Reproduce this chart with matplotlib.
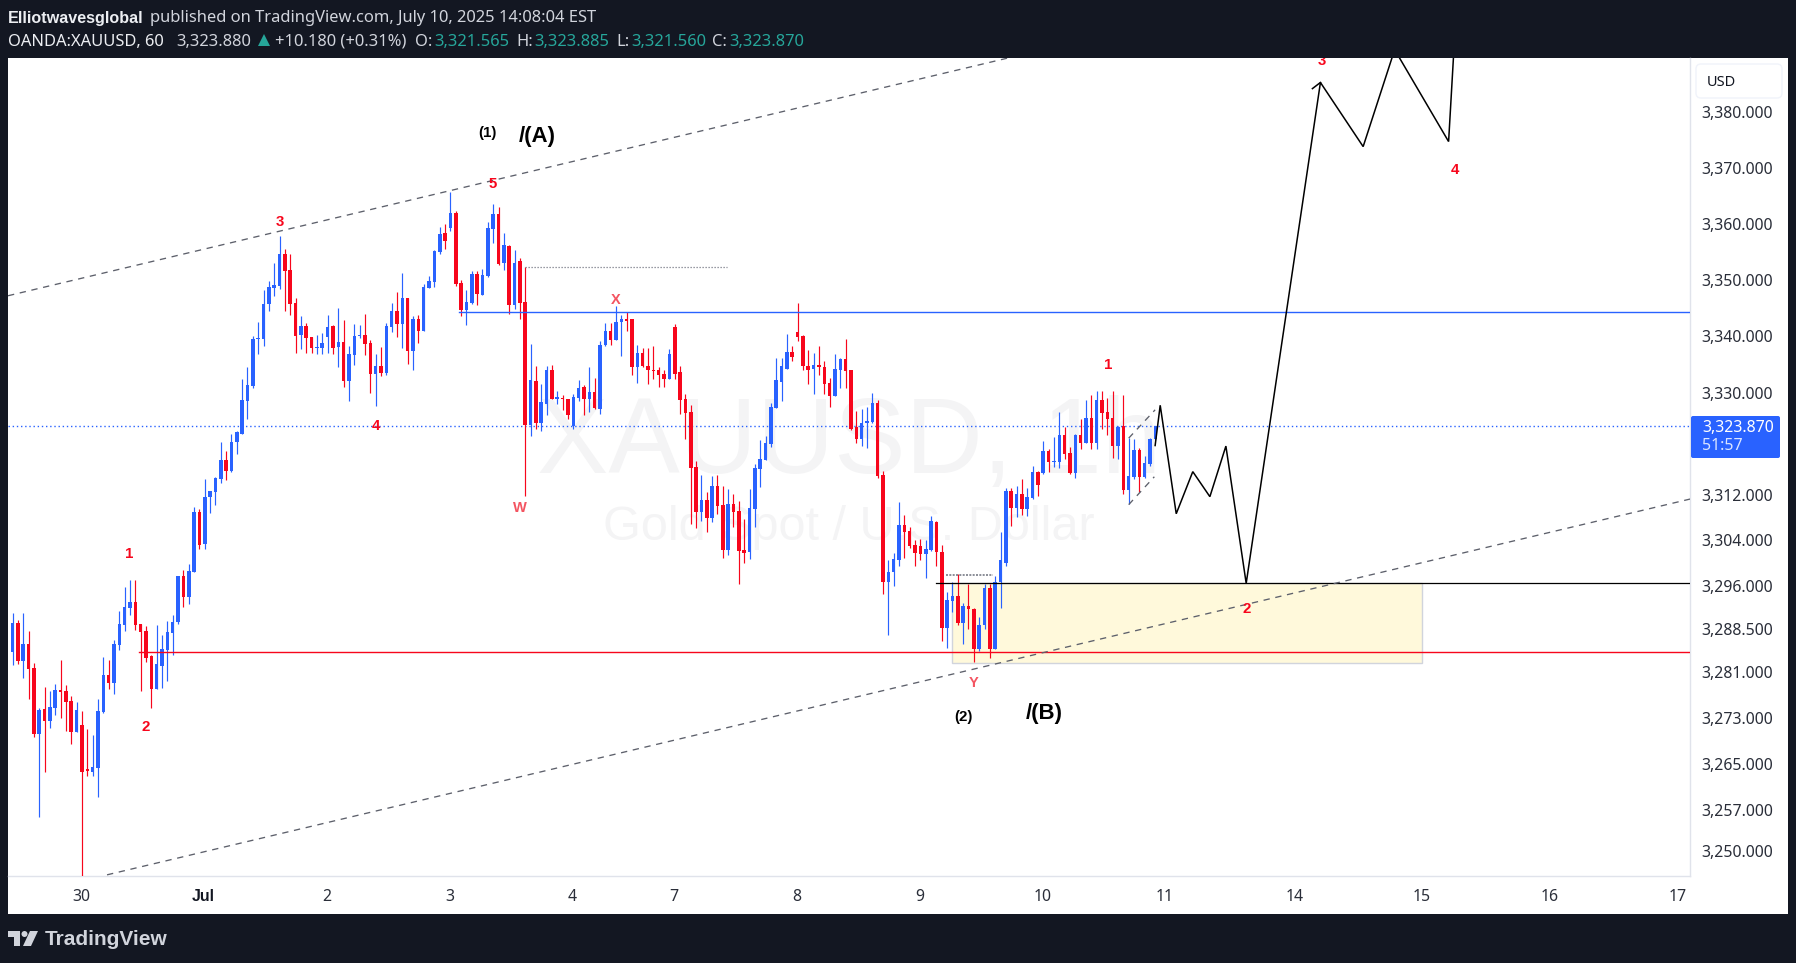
import matplotlib
matplotlib.use("Agg")
import matplotlib.pyplot as plt
from matplotlib.patches import Rectangle, FancyBboxPatch, Polygon, Circle
from matplotlib.ticker import NullLocator
from matplotlib.transforms import ScaledTranslation

opens = [3284.4,3289.4,3282.8,3285.7,3281.5,3270.0,3274.4,3272.3,3274.5,3277.7,
3277.5,3275.8,3270.4,3271.6,3263.9,3263.5,3264.2,3273.8,3280.3,3278.9,
3285.6,3289.1,3292.0,3293.1,3289.2,3288.0,3283.6,3277.9,3281.9,3284.7,
3287.7,3289.6,3297.5,3294.0,3298.3,3308.8,3303.2,3311.5,3312.3,3314.6,
3317.9,3316.0,3321.1,3322.6,3328.4,3331.0,3339.3,3339.3,3345.5,3348.4,
3348.7,3354.4,3351.5,3345.7,3340.0,3341.6,3339.7,3337.7,3337.7,3339.7,
3341.6,3337.9,3338.8,3331.9,3336.5,3339.9,3340.0,3338.6,3333.2,3334.6,
3333.3,3341.5,3344.3,3342.0,3346.6,3337.2,3342.9,3340.8,3348.4,3349.4,
3354.7,3358.1,3359.1,3361.8,3349.2,3344.5,3345.7,3350.8,3347.1,3350.5,
3358.9,3361.6,3352.8,3355.8,3345.3,3353.1,3345.9,3324.2,3331.9,3324.4,
3327.9,3333.9,3328.7,3328.9,3328.7,3324.0,3328.9,3330.9,3328.7,3330.0,
3327.0,3338.2,3340.8,3339.2,3342.4,3342.8,3342.8,3334.3,3336.8,3334.6,
3333.9,3333.8,3333.2,3332.2,3341.5,3333.4,3328.7,3326.5,3316.7,3308.8,
3310.9,3307.7,3313.3,3310.0,3302.2,3310.2,3309.0,3302.2,3301.8,3309.3,
3316.3,3317.9,3320.7,3327.2,3331.8,3334.1,3337.1,3340.5,3339.8,3334.6,
3334.1,3334.8,3334.3,3331.5,3329.3,3333.9,3335.7,3333.8,3323.7,3321.7,
3324.4,3324.7,3328.0,3315.3,3296.6,3298.2,3300.4,3306.6,3305.5,3303.1,
3302.9,3301.5,3302.2,3307.1,3301.8,3288.5,3293.3,3294.1,3289.4,3292.4,
3291.9,3284.9,3289.1,3295.5,3284.9,3296.6,3299.9,3312.5,3309.5,3312.0,
3309.3,3311.3,3315.8,3315.6,3319.5,3317.6,3317.6,3322.3,3319.2,3315.6,
3322.3,3320.9,3325.3,3320.9,3328.6,3326.5,3325.3,3320.4,3323.9,3312.7,
3315.0,3319.7,3315.0,3317.2,3321.565]

closes = [3289.4,3282.8,3285.7,3281.4,3270.0,3274.2,3272.3,3274.7,3277.7,3277.3,
3275.6,3270.4,3274.2,3263.5,3263.7,3264.4,3274.0,3280.3,3278.9,3285.7,
3289.2,3292.2,3293.1,3289.1,3287.8,3283.3,3277.9,3282.2,3284.9,3287.8,
3289.6,3297.5,3294.0,3298.5,3308.8,3303.1,3311.5,3312.5,3314.8,3317.9,
3316.0,3321.2,3322.8,3328.6,3331.2,3339.3,3339.5,3345.5,3348.5,3348.9,
3354.4,3351.4,3345.5,3339.9,3341.6,3339.5,3337.7,3337.9,3338.6,3341.5,
3337.7,3338.8,3331.9,3336.7,3339.9,3340.0,3338.5,3333.2,3334.6,3333.3,
3341.6,3344.3,3342.0,3346.6,3337.2,3342.9,3340.8,3348.5,3349.6,3354.9,
3357.9,3356.7,3361.8,3349.1,3344.5,3345.9,3350.8,3347.3,3350.6,3359.1,
3361.6,3352.6,3356.0,3345.3,3352.9,3345.7,3324.2,3332.1,3324.4,3328.1,
3333.9,3328.7,3329.0,3328.7,3325.8,3329.1,3330.7,3328.7,3330.0,3327.2,
3338.3,3340.8,3339.2,3342.4,3342.9,3342.6,3334.3,3336.8,3334.5,3333.8,
3333.6,3332.9,3332.2,3336.6,3333.2,3328.6,3326.3,3316.5,3308.8,3310.9,
3307.7,3313.3,3309.8,3302.2,3310.2,3308.8,3302.0,3301.6,3309.5,3316.5,
3318.1,3320.9,3327.3,3332.0,3334.5,3337.1,3336.2,3339.6,3334.5,3333.9,
3334.8,3334.3,3331.3,3329.3,3334.1,3335.7,3333.6,3323.5,3321.7,3324.5,
3324.9,3328.0,3315.1,3296.6,3298.2,3300.6,3306.6,3305.3,3302.9,3301.7,
3301.5,3302.4,3307.3,3301.8,3288.5,3293.4,3294.1,3289.4,3292.4,3291.9,
3284.9,3289.1,3295.5,3284.9,3296.6,3300.4,3312.5,3309.5,3312.0,3309.3,
3311.4,3315.8,3313.5,3319.5,3317.6,3317.8,3322.3,3319.0,3315.6,3322.3,
3320.9,3325.3,3320.9,3328.6,3326.2,3325.1,3320.4,3323.8,3312.7,3315.1,
3319.7,3315.0,3317.4,3321.6,3323.87]

highs = [3291.2,3289.9,3291.2,3288.0,3282.4,3274.5,3278.2,3277.5,3278.7,3282.9,
3278.6,3276.6,3275.6,3274.0,3270.9,3269.8,3276.1,3283.5,3282.9,3286.4,
3291.5,3295.7,3296.9,3296.8,3289.2,3288.9,3283.8,3289.1,3287.3,3289.8,
3290.8,3297.6,3298.7,3299.7,3309.7,3309.4,3314.6,3312.5,3315.0,3321.1,
3319.5,3322.6,3323.0,3332.3,3334.4,3339.9,3342.3,3348.0,3349.6,3352.8,
3357.7,3355.4,3354.4,3346.6,3343.4,3342.2,3339.7,3340.0,3340.4,3343.6,
3341.8,3344.8,3342.7,3338.1,3342.0,3341.8,3343.8,3339.2,3336.7,3337.9,
3342.2,3345.7,3347.6,3351.0,3346.6,3343.4,3343.6,3349.1,3350.5,3355.1,
3359.3,3359.8,3365.5,3362.0,3349.8,3348.0,3351.4,3351.4,3351.7,3360.2,
3363.4,3362.8,3358.1,3356.1,3355.2,3353.7,3352.1,3338.5,3334.6,3331.4,
3334.6,3334.7,3330.1,3329.4,3328.7,3329.6,3332.0,3331.1,3334.3,3332.5,
3338.9,3342.2,3342.2,3345.1,3343.6,3344.2,3342.9,3338.2,3337.8,3337.8,
3338.0,3334.3,3333.8,3337.5,3341.9,3334.5,3329.6,3327.7,3317.7,3315.3,
3312.3,3315.1,3315.3,3313.3,3312.8,3311.9,3310.7,3307.6,3312.8,3317.2,
3321.4,3322.1,3328.0,3335.9,3335.9,3340.3,3338.0,3345.8,3340.1,3337.3,
3336.9,3338.0,3335.5,3332.5,3336.6,3336.0,3339.4,3333.8,3326.6,3327.0,
3327.3,3329.8,3328.6,3316.0,3300.4,3301.7,3310.6,3308.3,3306.2,3303.9,
3304.1,3303.9,3308.1,3307.3,3303.1,3294.8,3296.6,3298.0,3292.9,3296.1,
3292.0,3290.5,3296.1,3296.1,3297.6,3305.3,3313.0,3313.0,3313.4,3314.6,
3313.0,3316.9,3316.0,3321.3,3319.9,3322.0,3326.4,3323.7,3320.2,3322.5,
3325.1,3328.5,3329.5,3330.2,3330.2,3328.9,3330.2,3323.9,3329.5,3321.9,
3321.6,3320.0,3318.6,3321.9,3323.885]

lows = [3282.0,3282.2,3279.8,3276.1,3269.5,3255.7,3263.5,3271.1,3273.3,3272.8,
3270.5,3268.4,3270.4,3243.0,3262.8,3262.7,3259.2,3273.7,3277.9,3277.0,
3284.7,3288.0,3290.8,3288.2,3277.5,3282.6,3274.5,3277.9,3278.0,3279.3,
3283.8,3289.2,3292.2,3292.7,3298.2,3302.4,3302.4,3308.7,3310.1,3313.9,
3314.4,3315.8,3319.0,3322.6,3325.1,3330.7,3336.7,3338.1,3344.3,3346.9,
3348.2,3344.3,3343.6,3336.9,3337.6,3336.9,3336.9,3336.7,3336.7,3336.9,
3336.7,3334.4,3330.9,3328.4,3334.7,3339.5,3336.5,3329.8,3327.5,3332.8,
3333.0,3340.6,3339.7,3337.7,3334.9,3333.9,3338.6,3340.8,3348.4,3348.5,
3354.4,3355.4,3358.6,3348.7,3343.4,3341.8,3345.5,3345.3,3347.1,3350.3,
3356.3,3352.4,3351.5,3343.8,3344.6,3342.9,3311.7,3322.1,3323.5,3323.0,
3325.8,3328.7,3327.9,3326.8,3325.1,3323.5,3328.4,3325.8,3326.5,3327.0,
3326.1,3338.0,3338.3,3339.2,3336.4,3340.8,3332.9,3331.5,3334.3,3331.3,
3332.2,3330.9,3330.8,3332.2,3332.3,3326.1,3321.7,3306.7,3306.0,3307.2,
3305.3,3307.0,3308.5,3300.8,3301.3,3306.2,3296.2,3299.9,3300.6,3306.2,
3313.2,3317.9,3320.2,3327.2,3328.4,3334.1,3335.5,3338.9,3333.8,3331.3,
3329.6,3332.9,3329.6,3327.3,3329.3,3330.7,3330.6,3323.3,3321.0,3320.5,
3320.0,3324.5,3314.7,3294.5,3287.2,3295.9,3299.4,3300.8,3302.5,3299.4,
3300.4,3297.3,3302.0,3299.4,3286.3,3285.0,3291.3,3289.1,3285.7,3288.4,
3282.6,3284.5,3288.4,3283.3,3284.9,3292.0,3299.4,3306.3,3307.9,3308.3,
3308.1,3311.1,3311.6,3315.5,3315.8,3316.7,3316.5,3318.1,3315.5,3314.8,
3319.9,3320.9,3319.9,3319.9,3323.5,3322.3,3318.3,3318.1,3312.0,3310.2,
3314.6,3312.3,3314.8,3316.9,3321.56]

price_ticks = [3380, 3370, 3360, 3350, 3340, 3330, 3312, 3304, 3296, 3288.5, 3281, 3273, 3265, 3257, 3250]
date_positions = [12.8, 35.8, 58.8, 81.8, 104.8, 123.8, 146.8, 169.8, 192.8, 215.8, 240, 263.9, 287.8, 311.85]
date_labels = ["30", "Jul", "2", "3", "4", "7", "8", "9", "10", "11", "14", "15", "16", "17"]

last_price = 3323.87
blue_level = 3344.2
red_level = 3284.3
black_level = 3296.4
zone_low = 3282.4
zone_x = [176.0, 264.0]

channel_top_x, channel_top_y = [-0.84, 186.4], [3347.0, 3389.5]
channel_bot_x, channel_bot_y = [17.7, 314.2], [3245.7, 3311.1]
flag_top_x, flag_top_y = [209.0, 213.95], [3321.8, 3326.8]
flag_bot_x, flag_bot_y = [209.0, 213.8], [3310.1, 3315.0]
forecast_x = [213.95, 214.9, 217.9, 221.0, 224.2, 227.2, 231.0, 244.9, 252.9, 258.8, 268.9, 270.0]
forecast_y = [3320.5, 3327.6, 3308.5, 3315.9, 3311.5, 3320.4, 3296.3, 3385.1, 3373.6, 3391.0, 3374.5, 3392.8]
wing_x, wing_y = [243.4, 244.9], [3384.0, 3385.1]
dots_a_x, dots_a_y = [96.0, 133.8], 3352.1
dots_b_x, dots_b_y = [174.8, 183.6], 3297.8

red_labels = [("1", 21.9, 3301.7), ("2", 24.9, 3271.5), ("3", 50.0, 3360.4), ("4", 68.0, 3324.2),
              ("5", 89.9, 3367.2), ("1", 205.1, 3334.95), ("2", 231.1, 3292.0), ("3", 245.1, 3389.2),
              ("4", 270.1, 3369.7)]
pink_labels = [("W", 95.0, 3309.7), ("X", 112.9, 3346.6), ("Y", 179.9, 3279.2)]
small_black = [("(1)", 89.0, 3376.3), ("(2)", 178.0, 3273.3)]
big_black = [("/(A)", 98.3, 3375.6), ("/(B)", 193.2, 3273.9)]

W, H = 1796, 963
BG = "#131722"; BLUE = "#2962ff"; RED = "#f7061c"; PINK = "#f23645"
TEAL = "#26a69a"; GRID = "#e0e3eb"; DASH = "#5d606b"; INK = "#131722"
BOLD = "Liberation Sans"
plt.rcParams["font.family"] = ["Noto Sans", "DejaVu Sans"]

fig = plt.figure(figsize=(W / 100, H / 100), dpi=100, facecolor=BG)
fx = lambda px: px / W
fy = lambda py: 1 - py / H

fig.add_artist(Rectangle((fx(8), fy(914)), 1780 / W, 856 / H, transform=fig.transFigure,
                         facecolor="white", edgecolor="none", zorder=-5))

ax = fig.add_axes([fx(8), fy(876), 1682 / W, 818 / H])
ax.set_yscale("log")
ax.set_ylim(3245.5, 3389.5)
ax.set_xlim(-0.843, 314.1)
ax.set_facecolor("white")
for side in ("top", "left"):
    ax.spines[side].set_visible(False)
for side in ("bottom", "right"):
    ax.spines[side].set_color(GRID)
    ax.spines[side].set_linewidth(1)

ax.yaxis.tick_right()
ax.set_yticks(price_ticks)
ax.set_yticklabels([f"{p:,.3f}" for p in price_ticks])
ax.yaxis.set_minor_locator(NullLocator())
ax.tick_params(axis="y", length=0, pad=8.5, labelsize=11.4, labelcolor="#2a2e39")
ax.set_xticks(date_positions)
ax.set_xticklabels(date_labels)
ax.tick_params(axis="x", length=0, pad=9, labelsize=11.4, labelcolor="#2a2e39")
shift = ScaledTranslation(0, -0.7 / 72, fig.dpi_scale_trans)
for lab in ax.get_yticklabels():
    lab.set_transform(lab.get_transform() + shift)
for lab in ax.get_xticklabels():
    if lab.get_text() == "Jul":
        lab.set_family(BOLD)
        lab.set_fontweight("bold")
        lab.set_color(INK)

# watermarks
ax.text(0.5, 0.527, "XAUUSD, 1h", transform=ax.transAxes, family="Liberation Sans", fontsize=77,
        color="#f4f4f5", ha="center", va="center", zorder=0)
ax.text(0.5, 0.4265, "Gold Spot / U.S. Dollar", transform=ax.transAxes, family="Liberation Sans",
        fontsize=35, color="#f4f4f5", ha="center", va="center", zorder=0)

# demand zone
ax.add_patch(Rectangle((zone_x[0], zone_low), zone_x[1] - zone_x[0], black_level - zone_low,
                       facecolor="#fff9db", edgecolor="#d1d4dc", linewidth=1, zorder=1))

# candles
for i, (o, h, l, c) in enumerate(zip(opens, highs, lows, closes)):
    col = BLUE if c >= o else RED
    ax.vlines(i, l, h, color=col, linewidth=0.85, zorder=3)
    top, bot = max(o, c), min(o, c)
    if top - bot < 0.2:
        top = bot + 0.2
    ax.bar(i, top - bot, bottom=bot, width=0.66, color=col, linewidth=0, zorder=3)

# levels
xmax = ax.get_xlim()[1]
ax.plot([83.6, xmax], [blue_level] * 2, color=BLUE, lw=1.0, zorder=4)
ax.plot([23.75, xmax], [red_level] * 2, color=RED, lw=1.0, zorder=4)
ax.plot([172.9, xmax], [black_level] * 2, color="black", lw=0.9, zorder=4)
ax.plot(ax.get_xlim(), [last_price] * 2, color=BLUE, lw=1.0, dashes=(1, 2), zorder=2)
ax.plot(dots_a_x, [dots_a_y] * 2, color="#787b86", lw=0.9, dashes=(1, 1.4), zorder=4)
ax.plot(dots_b_x, [dots_b_y] * 2, color="#787b86", lw=1.2, dashes=(1.2, 0.8), zorder=4)

# channel lines
for xs, ys in ((channel_top_x, channel_top_y), (channel_bot_x, channel_bot_y),
               (flag_top_x, flag_top_y), (flag_bot_x, flag_bot_y)):
    ax.plot(xs, ys, color=DASH, lw=0.95, dashes=(4.8, 4.3), zorder=4)

# forecast path
ax.plot(forecast_x, forecast_y, color="black", lw=1.1, solid_joinstyle="miter", zorder=5)
ax.plot(wing_x, wing_y, color="black", lw=1.1, zorder=5)

# wave labels
def label(s, x, y, **kw):
    ax.annotate(s, (x, y), xytext=(0, -1.1), textcoords="offset points", ha="center", va="center",
                family=BOLD, fontweight="bold", annotation_clip=False, clip_on=True, zorder=6, **kw)

for s, x, y in red_labels:
    label(s, x, y, color=RED, fontsize=10.8)
for s, x, y in pink_labels:
    label(s, x, y, color=PINK, fontsize=10.5, alpha=0.85)
for s, x, y in small_black:
    label(s, x, y, color="black", fontsize=10.8)
for s, x, y in big_black:
    label(s, x, y, color="black", fontsize=16)

# price scale furniture
fig.add_artist(FancyBboxPatch((1696, H - 98), 86, 34, boxstyle="round,pad=0,rounding_size=5",
                              transform=None, facecolor="white", edgecolor="#f0f3fa", linewidth=1))
fig.text(fx(1707), fy(82.5), "USD", color=INK, fontsize=10.5, va="center", ha="left")
fig.add_artist(FancyBboxPatch((1691, H - 458), 89, 42, boxstyle="round,pad=0,rounding_size=2",
                              transform=None, facecolor=BLUE, edgecolor="none"))
fig.text(fx(1702), fy(428), f"{last_price:,.3f}", color="white", fontsize=11.4, va="center", ha="left")
fig.text(fx(1702), fy(446.5), "51:57", color="#dbe5ff", fontsize=11.4, va="center", ha="left")

# header
HDR = 11.9
fig.text(fx(8), fy(18.5), "Elliotwavesglobal", color="#eceef2", family=BOLD, fontsize=11.6,
         fontweight="bold", va="center")
fig.text(fx(150), fy(18.5), "published on TradingView.com, July 10, 2025 14:08:04 EST", color="#d1d4dc",
         fontsize=HDR, va="center")
row = fy(41.5)
fig.text(fx(8), row, "OANDA:XAUUSD, 60", color="#eceef2", fontsize=HDR, va="center")
fig.text(fx(176), row, "3,323.880", color="#d1d4dc", fontsize=HDR, va="center")
fig.add_artist(Polygon([(258, H - 46), (270, H - 46), (264, H - 34)], closed=True, transform=None,
                       facecolor=TEAL, edgecolor="none"))
fig.text(fx(275), row, "+10.180 (+0.31%)", color="#d1d4dc", fontsize=HDR, va="center")
for px, s in ((415, "O:"), (516, "H:"), (616, "L:"), (712, "C:")):
    fig.text(fx(px), row, s, color="#d1d4dc", fontsize=HDR, va="center")
for px, s in ((434, "3,321.565"), (534, "3,323.885"), (631, "3,321.560"), (729, "3,323.870")):
    fig.text(fx(px), row, s, color=TEAL, fontsize=HDR, va="center")

# logo
logo = "#d1d4dc"
fig.add_artist(Polygon([(8, H - 931), (20, H - 931), (20, H - 946), (14, H - 946), (14, H - 937), (8, H - 937)],
                       closed=True, transform=None, facecolor=logo, edgecolor="none"))
fig.add_artist(Circle((24.5, H - 934), 3, transform=None, facecolor=logo, edgecolor="none"))
fig.add_artist(Polygon([(30, H - 931), (38, H - 931), (31, H - 946), (23, H - 946)], closed=True, transform=None,
                       facecolor=logo, edgecolor="none"))
fig.text(fx(45), fy(939), "TradingView", color=logo, family=BOLD, fontsize=15, fontweight="bold", va="center")

fig.savefig("out.png", dpi=100, facecolor=BG)
